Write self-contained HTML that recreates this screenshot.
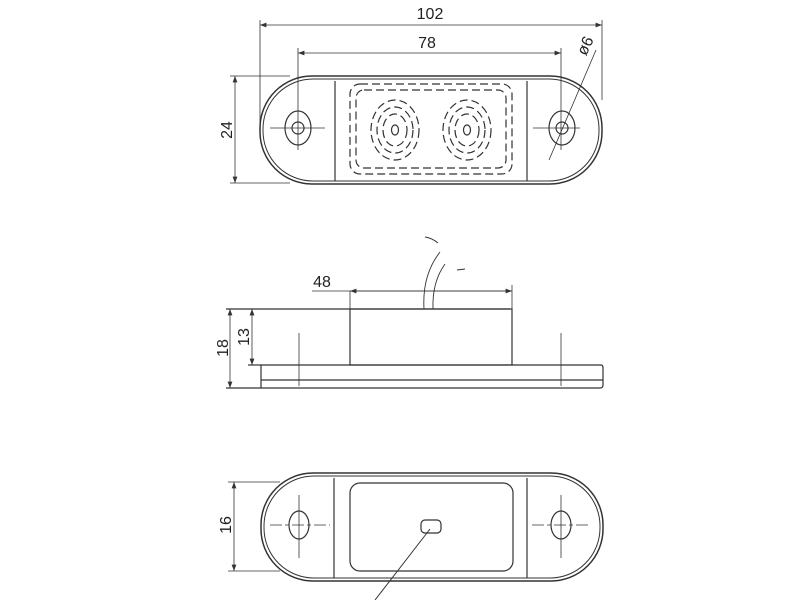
<!DOCTYPE html>
<html><head><style>body{margin:0;background:#fff}svg{display:block}</style></head><body>
<svg width="800" height="600" viewBox="0 0 800 600" xmlns="http://www.w3.org/2000/svg" font-family="Liberation Sans, sans-serif" fill="none" stroke="#333" stroke-width="1.2">
<defs><marker id="a" markerWidth="8" markerHeight="6" refX="8" refY="3" orient="auto-start-reverse"><path d="M0,0 L8,3 L0,6 z" fill="#333" stroke="none"/></marker></defs>
<!-- TOP VIEW -->
<rect x="260" y="76" width="342" height="108" rx="52" stroke-width="1.5"/>
<rect x="263" y="79" width="336" height="102" rx="50" stroke-width="1"/>
<line x1="335" y1="81" x2="335" y2="181"/><line x1="527" y1="81" x2="527" y2="181"/>
<ellipse cx="298" cy="128" rx="13" ry="17"/><circle cx="298" cy="128" r="6"/>
<ellipse cx="562" cy="128" rx="13" ry="17"/><circle cx="562" cy="128" r="6"/>
<line x1="270" y1="128" x2="325" y2="128" stroke-width="0.8"/><line x1="533" y1="128" x2="580" y2="128" stroke-width="0.8"/>
<line x1="298" y1="48" x2="298" y2="150" stroke-width="0.8"/><line x1="561" y1="48" x2="561" y2="150" stroke-width="0.8"/>
<line x1="549" y1="160" x2="596" y2="50" stroke-width="0.8"/>
<g stroke-dasharray="8,4" stroke-width="1.2">
<rect x="350" y="84" width="162" height="90" rx="10"/>
<rect x="356" y="90" width="150" height="78" rx="8"/>
<ellipse cx="395" cy="130" rx="24" ry="30"/><ellipse cx="395" cy="130" rx="18" ry="23"/><ellipse cx="395" cy="130" rx="12" ry="16"/>
<ellipse cx="467" cy="130" rx="24" ry="30"/><ellipse cx="467" cy="130" rx="18" ry="23"/><ellipse cx="467" cy="130" rx="12" ry="16"/>
</g>
<ellipse cx="395" cy="130" rx="3.5" ry="5"/><ellipse cx="467" cy="130" rx="3.5" ry="5"/>
<!-- dims top -->
<line x1="260" y1="20" x2="260" y2="130" stroke-width="0.8"/><line x1="602" y1="20" x2="602" y2="100" stroke-width="0.8"/>
<line x1="260" y1="25" x2="602" y2="25" stroke-width="0.8" marker-start="url(#a)" marker-end="url(#a)"/>
<line x1="298" y1="53" x2="561" y2="53" stroke-width="0.8" marker-start="url(#a)" marker-end="url(#a)"/>
<line x1="230" y1="76" x2="290" y2="76" stroke-width="0.8"/><line x1="230" y1="183" x2="290" y2="183" stroke-width="0.8"/>
<line x1="235" y1="76" x2="235" y2="183" stroke-width="0.8" marker-start="url(#a)" marker-end="url(#a)"/>
<g fill="#222" stroke="none" font-size="16">
<text x="430" y="19" text-anchor="middle">102</text>
<text x="427" y="48" text-anchor="middle">78</text>
<text text-anchor="middle" transform="translate(232,130) rotate(-90)">24</text>
<text text-anchor="middle" transform="translate(590,48) rotate(-65)">ø6</text>
<text x="322" y="287" text-anchor="middle">48</text>
<text text-anchor="middle" transform="translate(228,348) rotate(-90)">18</text>
<text text-anchor="middle" transform="translate(249,337) rotate(-90)">13</text>
<text text-anchor="middle" transform="translate(231,525) rotate(-90)">16</text>
</g>
<!-- SIDE VIEW -->
<line x1="226" y1="309" x2="510" y2="309"/>
<rect x="350" y="309" width="162" height="56"/>
<path d="M261,365 H601 Q603,365 603,368 V385 Q603,388 600,388 H261 Z"/>
<line x1="261" y1="380" x2="603" y2="380"/>
<line x1="226" y1="388" x2="261" y2="388"/>
<line x1="248" y1="365" x2="261" y2="365"/>
<line x1="230" y1="309" x2="230" y2="388" stroke-width="0.8" marker-start="url(#a)" marker-end="url(#a)"/>
<line x1="252" y1="309" x2="252" y2="365" stroke-width="0.8" marker-start="url(#a)" marker-end="url(#a)"/>
<line x1="312" y1="291" x2="512" y2="291" stroke-width="0.8"/>
<line x1="350" y1="291" x2="350" y2="309" stroke-width="0.8"/><line x1="512" y1="285" x2="512" y2="309" stroke-width="0.8"/>
<line x1="350" y1="291" x2="512" y2="291" stroke-width="0.8" marker-start="url(#a)" marker-end="url(#a)"/>
<line x1="299" y1="333" x2="299" y2="386" stroke-width="0.8"/><line x1="561" y1="333" x2="561" y2="386" stroke-width="0.8"/>
<path d="M424,309 Q422,275 440,252" stroke-width="0.9"/><path d="M433,309 Q432,282 445,264" stroke-width="0.9"/>
<path d="M425,237 Q432,238 438,243" stroke-width="0.9"/><line x1="457" y1="270" x2="465" y2="269" stroke-width="0.9"/>
<!-- BOTTOM VIEW -->
<rect x="261" y="473" width="342" height="108" rx="52" stroke-width="1.5"/>
<rect x="264" y="476" width="336" height="102" rx="50" stroke-width="1"/>
<line x1="334" y1="478" x2="334" y2="578"/><line x1="527" y1="478" x2="527" y2="578"/>
<rect x="350" y="483" width="163" height="88" rx="10"/>
<rect x="421" y="520" width="20" height="13" rx="4"/>
<ellipse cx="299" cy="525" rx="10" ry="14"/><ellipse cx="561" cy="525" rx="10" ry="14"/>
<line x1="270" y1="525" x2="330" y2="525" stroke-width="0.8" stroke-dasharray="12,3,4,3"/><line x1="532" y1="525" x2="590" y2="525" stroke-width="0.8" stroke-dasharray="12,3,4,3"/>
<line x1="299" y1="495" x2="299" y2="558" stroke-width="0.8"/><line x1="561" y1="495" x2="561" y2="558" stroke-width="0.8"/>
<line x1="228" y1="482" x2="280" y2="482" stroke-width="0.8"/><line x1="228" y1="571" x2="280" y2="571" stroke-width="0.8"/>
<line x1="234" y1="482" x2="234" y2="571" stroke-width="0.8" marker-start="url(#a)" marker-end="url(#a)"/>
<line x1="430" y1="529" x2="375" y2="600" stroke-width="1"/>
</svg>
</body></html>
